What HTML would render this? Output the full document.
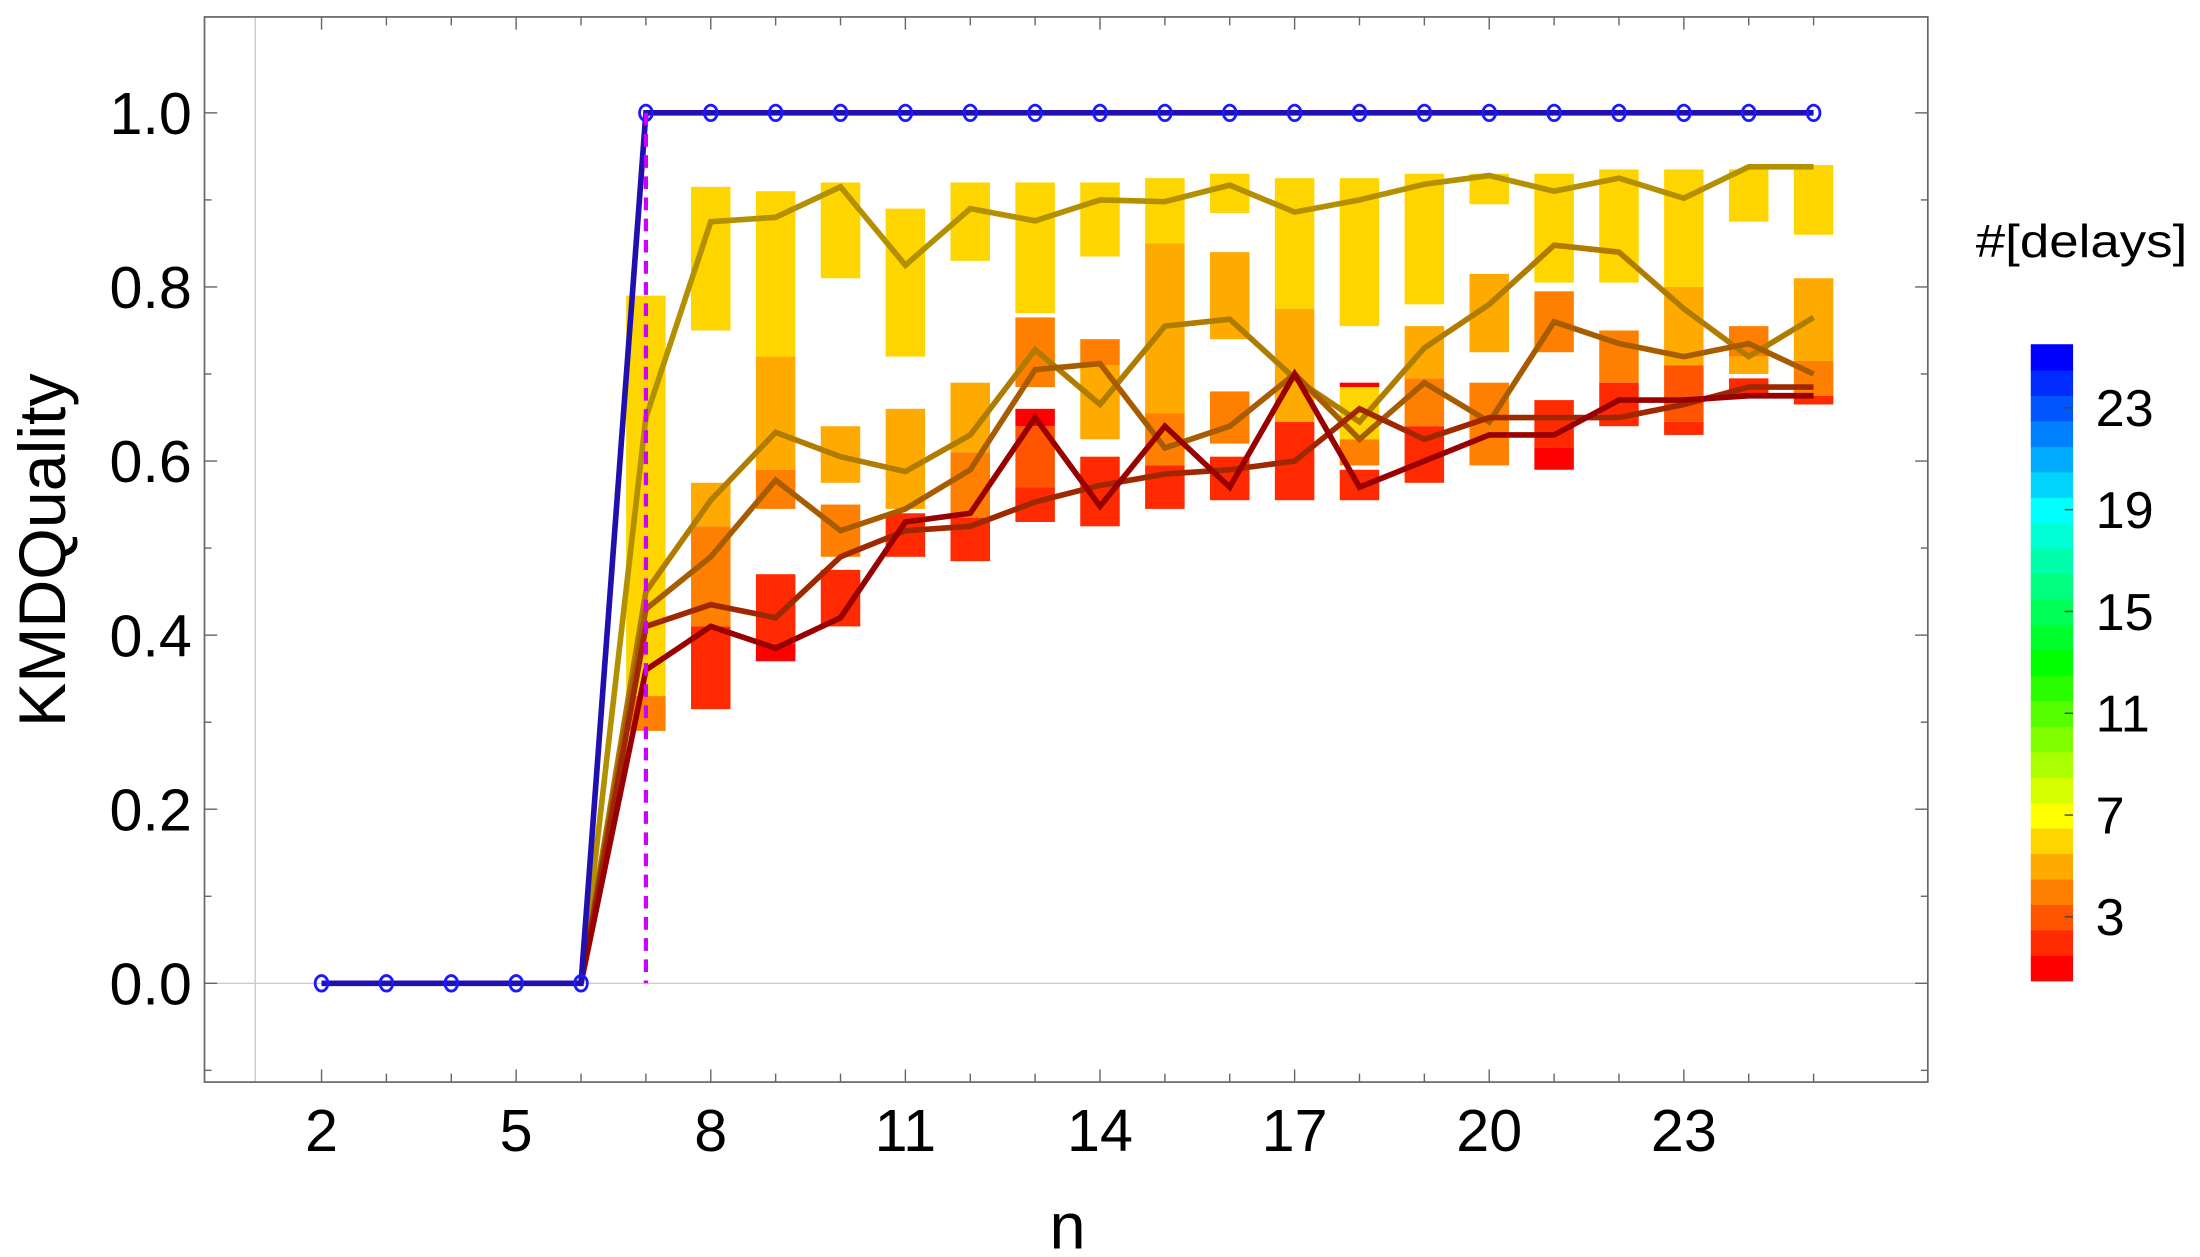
<!DOCTYPE html>
<html><head><meta charset="utf-8"><style>
html,body{margin:0;padding:0;background:#fff;}
svg{display:block;font-family:"Liberation Sans",sans-serif;}
</style></head><body>
<svg id="chart" width="2200" height="1257" viewBox="0 0 1560 891" preserveAspectRatio="none" xmlns="http://www.w3.org/2000/svg">
<rect x="0" y="0" width="1560" height="891" fill="#fff"/>
<g id="frame"></g>
<g id="bars"></g>
<g id="lines"></g>
<g id="cbar"></g>
<text transform="translate(46,390) rotate(-90)" text-anchor="middle" font-size="47" fill="#000">KMDQuality</text>
<text x="757" y="885" text-anchor="middle" font-size="46" fill="#000">n</text>
<text x="1476" y="182" text-anchor="middle" font-size="33" fill="#000" textLength="150" lengthAdjust="spacingAndGlyphs">#[delays]</text>
</svg>
<script>
const xTicks=[2,5,8,11,14,17,20,23];
const yTicks=[0,0.2,0.4,0.6,0.8,1.0];
const blueN=[2,3,4,5,6,7,8,9,10,11,12,13,14,15,16,17,18,19,20,21,22,23,24,25];
const blueV=[0,0,0,0,0,1,1,1,1,1,1,1,1,1,1,1,1,1,1,1,1,1,1,1];
const lineN=[6,7,8,9,10,11,12,13,14,15,16,17,18,19,20,21,22,23,24,25];
const line1=[0,0.65,0.875,0.88,0.915,0.825,0.89,0.876,0.90,0.898,0.917,0.886,0.90,0.918,0.928,0.91,0.925,0.902,0.938,0.938];
const line2=[0,0.45,0.555,0.633,0.605,0.588,0.63,0.728,0.665,0.755,0.763,0.695,0.645,0.73,0.78,0.848,0.84,0.775,0.72,0.765];
const line3=[0,0.43,0.49,0.578,0.52,0.545,0.59,0.705,0.712,0.615,0.64,0.70,0.625,0.69,0.645,0.76,0.735,0.72,0.735,0.70];
const line4=[0,0.41,0.435,0.42,0.49,0.52,0.525,0.553,0.572,0.585,0.59,0.60,0.66,0.625,0.65,0.65,0.65,0.665,0.685,0.685];
const line5=[0,0.36,0.41,0.385,0.42,0.53,0.54,0.65,0.548,0.64,0.57,0.70,0.57,0.60,0.63,0.63,0.67,0.67,0.675,0.675];
const lineColors=["#b39000","#b07c00","#a85c00","#a02800","#990000"];
// bar segments: [n, lo, hi, delays]
const barSegs=[
[7,0.33,0.79,6],[7,0.29,0.33,4],
[8,0.75,0.915,6],[8,0.525,0.575,5],[8,0.41,0.525,4],[8,0.315,0.41,2],
[9,0.72,0.91,6],[9,0.59,0.72,5],[9,0.545,0.59,4],[9,0.39,0.47,2],[9,0.37,0.39,1],
[10,0.81,0.92,6],[10,0.575,0.64,5],[10,0.49,0.55,4],[10,0.41,0.475,2],
[11,0.72,0.89,6],[11,0.545,0.66,5],[11,0.49,0.54,2],
[12,0.83,0.92,6],[12,0.61,0.69,5],[12,0.535,0.61,4],[12,0.485,0.535,2],
[13,0.77,0.92,6],[13,0.685,0.765,4],[13,0.57,0.64,3],[13,0.64,0.66,1],[13,0.53,0.57,2],
[14,0.835,0.92,6],[14,0.625,0.71,5],[14,0.71,0.74,4],[14,0.525,0.605,2],
[15,0.85,0.925,6],[15,0.655,0.85,5],[15,0.595,0.655,4],[15,0.545,0.595,2],
[16,0.885,0.93,6],[16,0.74,0.84,5],[16,0.62,0.68,4],[16,0.555,0.605,2],
[17,0.775,0.925,6],[17,0.645,0.775,5],[17,0.555,0.645,2],
[18,0.755,0.925,6],[18,0.625,0.685,6],[18,0.595,0.625,4],[18,0.555,0.59,2],[18,0.685,0.69,1],
[19,0.78,0.93,6],[19,0.695,0.755,5],[19,0.64,0.695,4],[19,0.575,0.64,2],
[20,0.895,0.93,6],[20,0.725,0.815,5],[20,0.595,0.69,4],
[21,0.805,0.93,6],[21,0.725,0.795,4],[21,0.615,0.67,2],[21,0.59,0.615,1],
[22,0.805,0.935,6],[22,0.69,0.75,4],[22,0.64,0.69,2],
[23,0.80,0.935,6],[23,0.71,0.80,5],[23,0.645,0.71,3],[23,0.63,0.645,2],
[24,0.875,0.935,6],[24,0.72,0.755,4],[24,0.70,0.72,5],[24,0.675,0.695,2],
[25,0.86,0.94,6],[25,0.715,0.81,5],[25,0.675,0.715,4],[25,0.665,0.675,2]
];
const cbarTicks=[3,7,11,15,19,23];
const NS="http://www.w3.org/2000/svg";
const X0=145,X1=1367,Y0=12,Y1=767;
function xs(n){return 228+(n-2)*46;}
function ys(v){return 697-v*617;}
function delayColor(k){return "hsl("+((k-1)*10)+",100%,50%)";}
function mk(tag,attrs,parent){const e=document.createElementNS(NS,tag);for(const k in attrs)e.setAttribute(k,attrs[k]);parent.appendChild(e);return e;}
const frame=document.getElementById('frame');
let e=mk('line',{x1:181,y1:Y0,x2:181,y2:Y1,stroke:'#ccc','stroke-width':1},frame);


e=mk('line',{x1:X0,y1:ys(0),x2:X1,y2:ys(0),stroke:'#ccc','stroke-width':1},frame);


e=mk('rect',{x:X0,y:Y0,width:X1-X0,height:Y1-Y0,fill:'none',stroke:'#666','stroke-width':1.2},frame);


for(let n=2;n<=25;n++){
  const major=xTicks.includes(n);const L=major?9:6;
  mk('line',{x1:xs(n),y1:Y1,x2:xs(n),y2:Y1-L,stroke:'#666','stroke-width':1},frame);
  mk('line',{x1:xs(n),y1:Y0,x2:xs(n),y2:Y0+L,stroke:'#666','stroke-width':1},frame);
}
for(let i=-1;i<=10;i++){
  const v=i/10;const major=(i%2===0)&&i>=0;const L=major?9:5;
  mk('line',{x1:X0,y1:ys(v),x2:X0+L,y2:ys(v),stroke:'#666','stroke-width':1},frame);
  mk('line',{x1:X1,y1:ys(v),x2:X1-L,y2:ys(v),stroke:'#666','stroke-width':1},frame);
}
xTicks.forEach(t=>{const tx=mk('text',{x:xs(t),y:816,'text-anchor':'middle','font-size':42,fill:'#000'},frame);tx.textContent=t;

});
yTicks.forEach(t=>{const tx=mk('text',{x:136,y:ys(t)+15,'text-anchor':'end','font-size':42,fill:'#000'},frame);tx.textContent=t.toFixed(1);

});
const bars=document.getElementById('bars');
barSegs.forEach(s=>{const r=mk('rect',{x:xs(s[0])-14,y:ys(s[2]),width:28,height:ys(s[1])-ys(s[2]),fill:delayColor(s[3])},bars);

});
const lines=document.getElementById('lines');
[line1,line2,line3,line4,line5].forEach((arr,i)=>{
  const pts=lineN.map((n,j)=>xs(n)+','+ys(arr[j])).join(' ');
  const p=mk('polyline',{points:pts,fill:'none',stroke:lineColors[i],'stroke-width':4,'stroke-linejoin':'miter'},lines);
  
  
});
const bpts=blueN.map((n,j)=>xs(n)+','+ys(blueV[j])).join(' ');
let bl=mk('polyline',{points:bpts,fill:'none',stroke:'#2010b0','stroke-width':4},lines);


blueN.forEach((n,j)=>{const c=mk('ellipse',{cx:xs(n),cy:ys(blueV[j]),rx:4.5,ry:5.5,fill:'none',stroke:'#1a1aff','stroke-width':2},lines);

});
let dl=mk('line',{x1:xs(7),y1:ys(1),x2:xs(7),y2:ys(0),stroke:'#cc00ff','stroke-width':3,'stroke-dasharray':'9,6'},lines);


const cb=document.getElementById('cbar');
const cbTop=244,cbBot=695,band=(cbBot-cbTop)/25;
for(let k=1;k<=25;k++){const r=mk('rect',{x:1440,y:cbBot-k*band,width:30,height:band+0.6,fill:delayColor(k)},cb);

}
cbarTicks.forEach(t=>{const y=cbBot-(t-0.5)*band;
mk('line',{x1:1464,y1:y,x2:1470,y2:y,stroke:'#444','stroke-width':1},cb);
const tx=mk('text',{x:1486,y:y+13,'font-size':37,fill:'#000'},cb);tx.textContent=t;

});
</script>
</body></html>
